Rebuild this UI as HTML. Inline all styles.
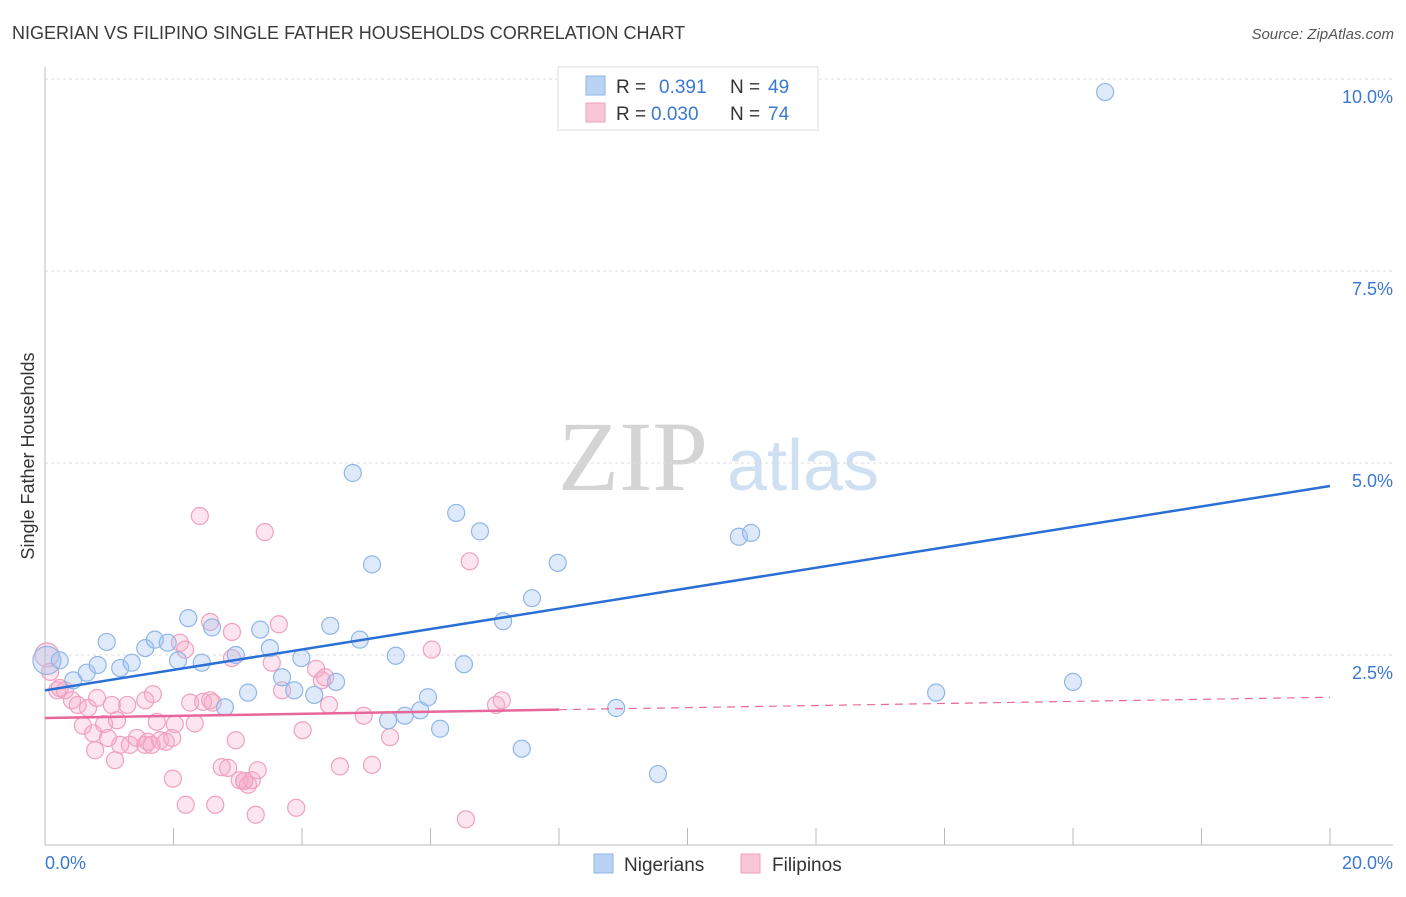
<!DOCTYPE html>
<html><head><meta charset="utf-8"><style>
body{margin:0;background:#fff;font-family:"Liberation Sans",sans-serif}
svg text{font-family:"Liberation Sans",sans-serif}
</style></head><body>
<svg id="chart" width="1406" height="892" xmlns="http://www.w3.org/2000/svg">
<text x="12" y="39" font-size="18" fill="#3a3a3a">NIGERIAN VS FILIPINO SINGLE FATHER HOUSEHOLDS CORRELATION CHART</text>
<text x="1394" y="39" font-size="15" fill="#555" text-anchor="end" font-style="italic">Source: ZipAtlas.com</text>
<g>
<text x="633" y="490" font-size="100" fill="#d4d4d4" text-anchor="middle" style="font-family:'Liberation Serif',serif">ZIP</text>
<text x="803" y="490" font-size="72" fill="#cfe0f3" text-anchor="middle">atlas</text>
</g>
<g id="grid"></g><g id="axes"></g><g id="marks"></g>
<text transform="translate(34,456) rotate(-90)" font-size="18" fill="#333" text-anchor="middle">Single Father Households</text>
<g>
<rect x="558" y="67" width="260" height="63" fill="#fff" stroke="#ddd"/>
<rect x="586" y="76" width="19" height="19" fill="#b9d3f5" stroke="#8fb6e8"/>
<rect x="586" y="103" width="19" height="19" fill="#f9c6d8" stroke="#f0a0c0"/>
<text x="616" y="93" font-size="19" fill="#333">R = </text><text x="659" y="93" font-size="19" fill="#3a78d4">0.391</text>
<text x="730" y="93" font-size="19" fill="#333">N = </text><text x="768" y="93" font-size="19" fill="#3a78d4">49</text>
<text x="616" y="120" font-size="19" fill="#333">R = </text><text x="651" y="120" font-size="19" fill="#3a78d4">0.030</text>
<text x="730" y="120" font-size="19" fill="#333">N = </text><text x="768" y="120" font-size="19" fill="#3a78d4">74</text>
</g>
<g><rect x="594" y="854" width="19" height="19" fill="#b9d3f5" stroke="#8fb6e8"/><text x="624" y="871" font-size="19" fill="#333">Nigerians</text></g>
<g><rect x="741" y="854" width="19" height="19" fill="#f9c6d8" stroke="#f0a0c0"/><text x="772" y="871" font-size="19" fill="#333">Filipinos</text></g>
</svg>
<script>
const yTicks=[2.5,5,7.5,10];
const yTickLabels=["2.5%","5.0%","7.5%","10.0%"];
const xTicks=[0,2,4,6,8,10,12,14,16,18,20];
const nigX=[0.03,0.23,0.44,0.65,0.82,0.96,1.17,1.35,1.56,1.71,1.91,2.07,2.23,2.44,2.60,2.97,3.16,2.80,3.35,3.50,3.69,3.88,3.99,4.19,4.44,4.53,4.79,4.90,5.09,5.34,5.46,5.60,5.84,5.96,6.15,6.40,6.52,6.77,7.13,7.42,7.58,7.98,8.89,9.54,10.80,10.99,13.87,16.00,16.50];
const nigY=[2.43,2.43,2.17,2.27,2.37,2.67,2.33,2.40,2.59,2.70,2.66,2.43,2.98,2.40,2.86,2.50,2.01,1.82,2.83,2.59,2.21,2.04,2.46,1.98,2.88,2.15,4.87,2.70,3.68,1.65,2.49,1.71,1.78,1.95,1.54,4.35,2.38,4.11,2.94,1.28,3.24,3.70,1.81,0.95,4.04,4.09,2.01,2.15,9.83];
const filX=[0.03,0.08,0.19,0.31,0.42,0.51,0.67,0.59,0.75,0.81,0.92,0.98,1.04,1.12,1.17,1.28,1.32,1.43,1.56,1.60,1.68,1.74,1.79,1.88,1.98,2.02,2.10,2.18,2.26,2.33,2.41,2.46,2.57,2.61,2.65,2.75,2.85,2.91,2.97,3.03,3.10,3.16,3.22,3.28,3.31,3.42,3.53,3.64,3.69,3.91,4.01,4.22,4.31,4.42,4.59,4.96,5.09,5.37,6.02,6.55,6.61,7.02,7.11,2.19,1.99,1.56,1.09,0.23,0.78,1.66,2.57,2.91,3.10,4.36];
const filY=[2.50,2.28,2.04,2.04,1.91,1.85,1.81,1.58,1.48,1.94,1.60,1.42,1.85,1.65,1.33,1.85,1.33,1.42,1.33,1.37,1.99,1.63,1.39,1.37,1.42,1.60,2.66,2.57,1.88,1.61,4.31,1.89,2.93,1.88,0.55,1.04,1.03,2.46,1.39,0.87,0.86,0.81,0.87,0.42,1.00,4.10,2.40,2.90,2.04,0.51,1.52,2.32,2.17,1.85,1.05,1.71,1.07,1.43,2.57,0.36,3.72,1.85,1.91,0.55,0.89,1.91,1.13,2.07,1.26,1.33,1.91,2.80,0.86,2.21];
const nigTrend=[2.04,4.70];
const filTrend=[1.68,1.95];
const X=v=>45+v/20*1285, Y=v=>847-v*76.8;
const NS="http://www.w3.org/2000/svg";
function mk(p,t,a){const e=document.createElementNS(NS,t);for(const k in a)e.setAttribute(k,a[k]);p.appendChild(e);return e;}
const grid=document.getElementById('grid'),axes=document.getElementById('axes'),marks=document.getElementById('marks');
yTicks.forEach((t,i)=>{
 const l=mk(grid,'line',{x1:45,x2:1393,y1:Y(t),y2:Y(t),stroke:'#ddd','stroke-dasharray':'3,3'});
 
 
 const tx=mk(axes,'text',{x:1393,y:Y(t)+24,'font-size':18,fill:'#3a78d4','text-anchor':'end'});tx.textContent=yTickLabels[i];
 
 
});
mk(axes,'line',{x1:45,x2:45,y1:67,y2:845,stroke:'#bbb'});
mk(axes,'line',{x1:45,x2:1393,y1:845,y2:845,stroke:'#bbb'});
xTicks.forEach(t=>{const l=mk(axes,'line',{x1:X(t),x2:X(t),y1:828,y2:845,stroke:'#bbb'});
 
 });
let a=mk(axes,'text',{x:45,y:869,'font-size':18,fill:'#3a78d4'});a.textContent='0.0%';


a=mk(axes,'text',{x:1393,y:869,'font-size':18,fill:'#3a78d4','text-anchor':'end'});a.textContent='20.0%';


filX.forEach((x,i)=>{const c=mk(marks,'circle',{cx:X(x),cy:Y(filY[i]),r:i===0?12:8.5,fill:'rgba(246,170,200,0.3)',stroke:'#f0a0c0','stroke-width':1.2});
 
 });
nigX.forEach((x,i)=>{const c=mk(marks,'circle',{cx:X(x),cy:Y(nigY[i]),r:i===0?14:8.5,fill:'rgba(160,196,240,0.35)',stroke:'#8fb6e8','stroke-width':1.2});
 
 });
let t=mk(marks,'line',{x1:X(0),y1:Y(nigTrend[0]),x2:X(20),y2:Y(nigTrend[1]),stroke:'#2a6fd6','stroke-width':2.5});


const fm=filTrend[0]+(filTrend[1]-filTrend[0])*0.4;
t=mk(marks,'line',{x1:X(0),y1:Y(filTrend[0]),x2:X(8),y2:Y(fm),stroke:'#e8679a','stroke-width':2.5});


t=mk(marks,'line',{x1:X(8),y1:Y(fm),x2:X(20),y2:Y(filTrend[1]),stroke:'#e8679a','stroke-width':1.2,'stroke-dasharray':'8,6'});


</script>
</body></html>
